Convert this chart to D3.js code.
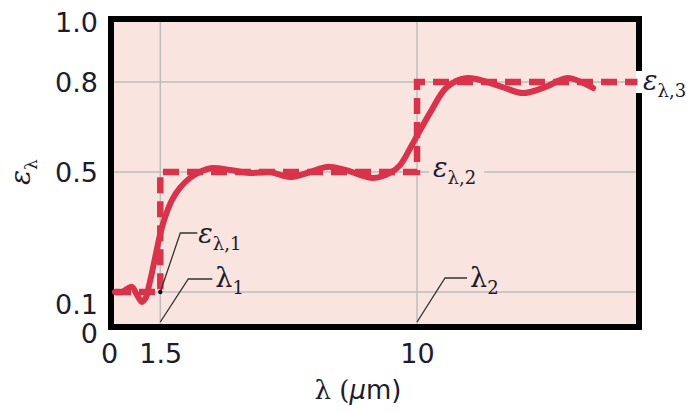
<!DOCTYPE html>
<html>
<head>
<meta charset="utf-8">
<script src="https://cdn.jsdelivr.net/npm/d3@7"></script>
<style>
  body { margin: 0; background: #fff; }
  text { font-family: "DejaVu Sans", sans-serif; fill: #1c1c2c; }
  .greek { font-family: "DejaVu Serif", serif; }
</style>
</head>
<body>
<svg id="chart" width="695" height="412"></svg>
<script>
// spectral emissivity curve (wavelength in um, emissivity)
const curveX = [0, 0.23, 0.4, 0.56, 0.73, 0.89, 1.03, 1.13, 1.23, 1.36, 1.49, 1.66, 1.89, 2.15, 2.48, 2.81, 3.21,
  3.81, 4.47, 5.13, 5.79, 6.46, 7.02, 7.62, 8.54, 9.11, 9.44, 9.87, 10.43, 10.99, 11.66, 12.32, 12.91,
  13.51, 14.24, 14.97, 15.5, 15.83];
const curveY = [0.1, 0.1, 0.11, 0.117, 0.09, 0.067, 0.083, 0.123, 0.167, 0.23, 0.29, 0.35, 0.407, 0.447, 0.48, 0.5, 0.513,
  0.507, 0.497, 0.5, 0.483, 0.5, 0.517, 0.507, 0.48, 0.497, 0.523, 0.597, 0.697, 0.783, 0.813, 0.8, 0.78,
  0.763, 0.783, 0.813, 0.797, 0.78];

// band approximation (step)
const stepX = [0, 1.5, 1.5, 10, 10, 17.3];
const stepY = [0.1, 0.1, 0.5, 0.5, 0.8, 0.8];

const xTicks = [0, 1.5, 10];
const xTickLabels = ["0", "1.5", "10"];
const yTicks = [0, 0.1, 0.5, 0.8, 1.0];
const yTickLabels = ["0", "0.1", "0.5", "0.8", "1.0"];
const gridX = [1.5, 10];
const gridY = [0.1, 0.5, 0.8];

const red = "#d8334b";
const svg = d3.select("#chart");

const x = d3.scaleLinear().domain([0, 17.25]).range([115, 636]);
const y = d3.scaleLinear().domain([0, 1]).range([322, 22]);

// plot background
svg.append("rect")
  .attr("x", 113).attr("y", 20).attr("width", 525).attr("height", 306)
  .attr("fill", "#f9e4df");

// grid
svg.selectAll(".gx").data(gridX).enter().append("line")
  .attr("x1", d => x(d)).attr("x2", d => x(d))
  .attr("y1", 20).attr("y2", 326)
  .attr("stroke", "#bdbdbd").attr("stroke-width", 1.5);
svg.selectAll(".gy").data(gridY).enter().append("line")
  .attr("x1", 113).attr("x2", 638)
  .attr("y1", d => y(d)).attr("y2", d => y(d))
  .attr("stroke", "#bdbdbd").attr("stroke-width", 1.5);

// frame
svg.append("rect")
  .attr("x", 111).attr("y", 19).attr("width", 528).attr("height", 308)
  .attr("fill", "none").attr("stroke", "#000").attr("stroke-width", 6);
// gap in frame where the dashed line leaves
svg.append("rect")
  .attr("x", 636).attr("y", y(0.8) - 11).attr("width", 10).attr("height", 22)
  .attr("fill", "#fff");

// step (dashed)
const stepLine = d3.line().x(d => x(d[0])).y(d => y(d[1]));
svg.append("path")
  .datum(stepX.map((v, i) => [v, stepY[i]]))
  .attr("d", stepLine)
  .attr("fill", "none").attr("stroke", red)
  .attr("stroke-width", 6.5)
  .attr("stroke-dasharray", "16,8");

// actual curve
const curveLine = d3.line().x(d => x(d[0])).y(d => y(d[1])).curve(d3.curveCatmullRom.alpha(0.5));
svg.append("path")
  .datum(curveX.map((v, i) => [v, curveY[i]]))
  .attr("d", curveLine)
  .attr("fill", "none").attr("stroke", red)
  .attr("stroke-width", 6).attr("stroke-linecap", "round").attr("stroke-linejoin", "round");

// axes
const yAxis = d3.axisLeft(y).tickValues(yTicks).tickSize(0).tickPadding(17)
  .tickFormat((d, i) => yTickLabels[i]);
const gy = svg.append("g").attr("transform", "translate(115,0)").call(yAxis);
gy.select(".domain").remove();
gy.selectAll("text")
  .style("font-family", "DejaVu Sans").style("font-size", "27px").attr("fill", "#1c1c2c")
  .attr("dy", d => d === 0 ? "20px" : d === 0.1 ? "21px" : "0.35em");

const xAxis = d3.axisBottom(x).tickValues(xTicks).tickSize(0).tickPadding(14)
  .tickFormat((d, i) => xTickLabels[i]);
const gx = svg.append("g").attr("transform", "translate(0,330)").call(xAxis);
gx.select(".domain").remove();
gx.selectAll("text")
  .style("font-family", "DejaVu Sans").style("font-size", "27px").attr("fill", "#1c1c2c")
  .attr("dx", d => d === 0 ? -6 : 0);

// axis titles
const xt = svg.append("text").attr("x", 358).attr("y", 399)
  .attr("text-anchor", "middle").style("font-size", "26px");
xt.append("tspan").attr("class", "greek").text("λ (");
xt.append("tspan").style("font-style", "italic").text("μ");
xt.append("tspan").text("m)");

const yt = svg.append("text")
  .attr("transform", "translate(30," + y(0.5) + ") rotate(-90)")
  .attr("text-anchor", "middle").attr("class", "greek").style("font-size", "28px");
yt.append("tspan").style("font-style", "italic").text("ε");
yt.append("tspan").attr("dy", 7).style("font-size", "17px").text("λ");

// annotations
function subLabel(px, py, main, sub, bg) {
  const g = svg.append("g");
  const t = g.append("text").attr("x", px).attr("y", py).attr("class", "greek").style("font-size", "27px");
  t.append("tspan").style("font-style", main === "ε" ? "italic" : "normal").text(main);
  t.append("tspan").attr("dy", 7).style("font-size", "18px").text(sub);
  if (bg) {
    const b = t.node().getBBox();
    g.insert("rect", "text").attr("x", b.x - 4).attr("y", b.y + 4).attr("width", b.width + 12)
      .attr("height", b.height - 8).attr("fill", bg);
  }
}
function leader(dx, dy, ox1, oy1, ox2, oy2, dot) {
  const x0 = x(dx), y0 = y(dy);
  svg.append("path")
    .attr("d", "M" + x0 + "," + y0 + "L" + (x0 + ox1) + "," + (y0 + oy1) + "L" + (x0 + ox2) + "," + (y0 + oy2))
    .attr("fill", "none").attr("stroke", "#333").attr("stroke-width", 1.3);
  if (dot) svg.append("circle").attr("cx", x0).attr("cy", y0).attr("r", 2.2).attr("fill", "#111");
}

leader(1.5, 0.1, 20, -59, 37, -59, true);
subLabel(x(1.5) + 38, y(0.1) - 49, "ε", "λ,1");
leader(1.5, 0, 28, -43, 52, -43, false);
subLabel(x(1.5) + 55, y(0) - 35, "λ", "1");
leader(10, 0, 28, -44, 50, -44, false);
subLabel(x(10) + 53, y(0) - 35, "λ", "2");
subLabel(x(10) + 16, y(0.5) + 5, "ε", "λ,2", "#f9e4df");
subLabel(x(17.25) + 7, y(0.8) + 8, "ε", "λ,3");
</script>
</body>
</html>
